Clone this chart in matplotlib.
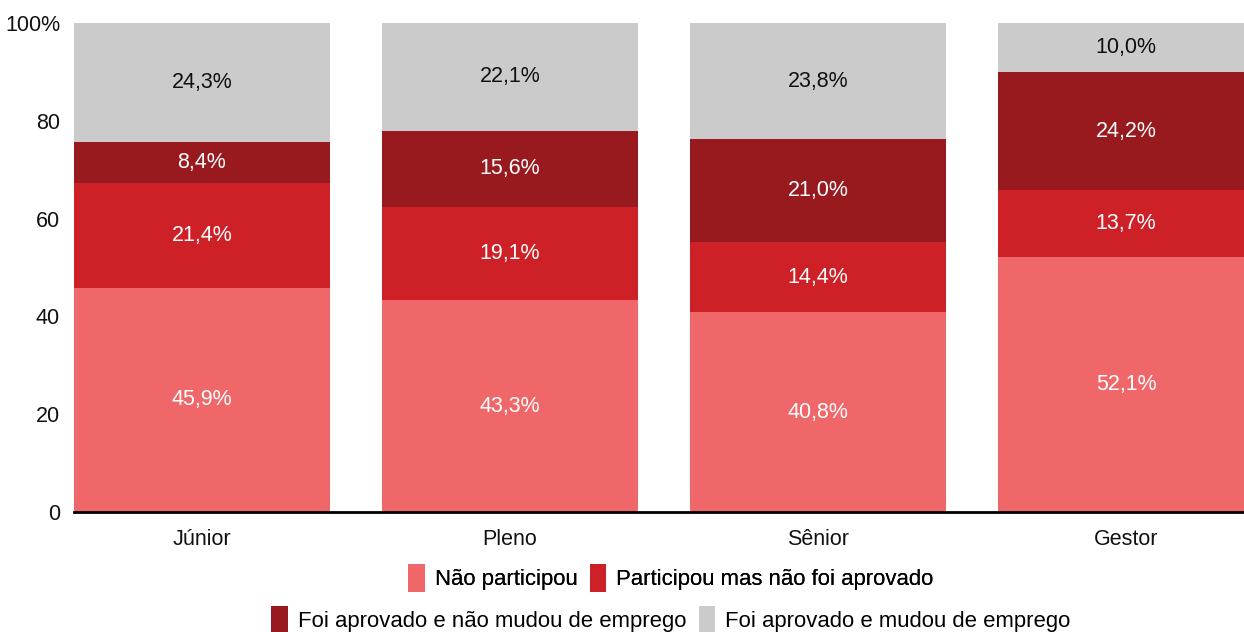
import matplotlib
matplotlib.use("Agg")
import matplotlib.pyplot as plt
import numpy as np
from matplotlib.patches import Patch

categories = ["Júnior", "Pleno", "Sênior", "Gestor"]
series_names = ["Não participou", "Participou mas não foi aprovado",
                "Foi aprovado e não mudou de emprego", "Foi aprovado e mudou de emprego"]
nao_participou = [45.9, 43.3, 40.8, 52.1]
participou_nao_aprovado = [21.4, 19.1, 14.4, 13.7]
aprovado_nao_mudou = [8.4, 15.6, 21.0, 24.2]
aprovado_mudou = [24.3, 22.1, 23.8, 10.0]
yticks = [0, 20, 40, 60, 80, 100]
yticklabels = ["0", "20", "40", "60", "80", "100%"]

colors = ["#F0676A", "#CD2027", "#981A1F", "#CBCBCB"]
text_colors = ["white", "white", "white", "#111111"]

plt.rcParams['font.family'] = ['Liberation Sans', 'DejaVu Sans']
FS = 15.5
LFS = 15.9

fig = plt.figure(figsize=(12.44, 6.32), dpi=100)
ax = fig.add_axes([74/1244, 120/632, 1 - 74/1244, (512-23)/632])

x = np.arange(len(categories))
width = 0.83
bottom = np.zeros(len(categories))
all_series = [nao_participou, participou_nao_aprovado, aprovado_nao_mudou, aprovado_mudou]
for vals, col, tc, name in zip(all_series, colors, text_colors, series_names):
    vals = np.array(vals)
    ax.bar(x, vals, width, bottom=bottom, color=col, label=name, linewidth=0)
    for xi, b, v in zip(x, bottom, vals):
        ax.text(xi, b + v/2, f"{v:.1f}%".replace(".", ","), ha="center", va="center",
                color=tc, fontsize=FS)
    bottom += vals

ax.set_xlim(-width/2, 3.383)
ax.set_ylim(0, 100)
ax.set_xticks(x)
ax.set_xticklabels(categories, fontsize=FS, color="#111111")
ax.set_yticks(yticks)
ax.set_yticklabels(yticklabels, fontsize=FS, color="#111111")
ax.tick_params(length=0, pad=10)
ax.tick_params(axis="x", pad=12)
for s in ["top", "right", "left"]:
    ax.spines[s].set_visible(False)
ax.spines["bottom"].set_linewidth(2)
ax.spines["bottom"].set_color("black")
ax.spines["bottom"].set_zorder(5)

handles = [Patch(facecolor=c, edgecolor="none") for c in colors]
cx = 671/1244
kw = dict(loc="center", ncol=2, frameon=False, fontsize=LFS, handlelength=0.75,
          handleheight=1.6, handletextpad=0.45, columnspacing=0.55, borderpad=0)
leg1 = fig.legend(handles[:2], series_names[:2], bbox_to_anchor=(cx, 1 - 578/632), **kw)
leg2 = fig.legend(handles[2:], series_names[2:], bbox_to_anchor=(cx, 1 - 620/632), **kw)
fig.add_artist(leg1)

fig.savefig("out.png", dpi=100)
